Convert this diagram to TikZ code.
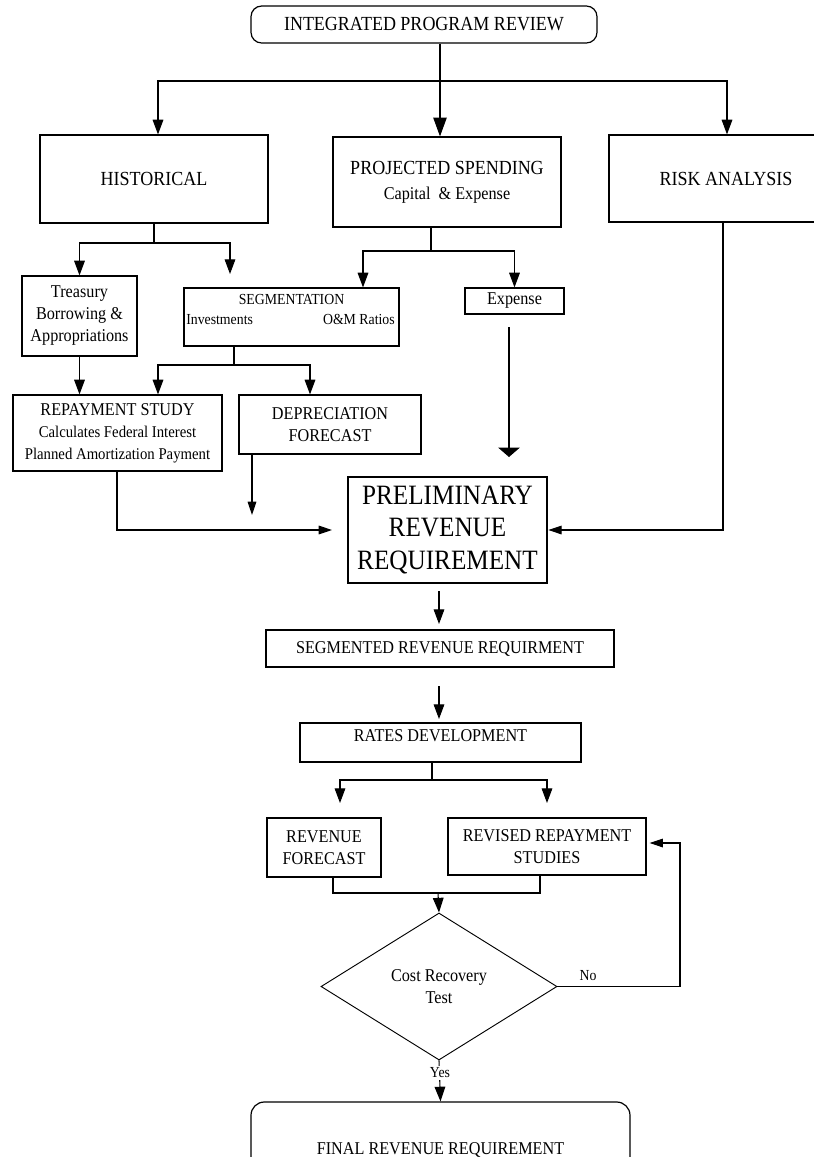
\documentclass[tikz,border=0pt]{standalone}
\usepackage{fontspec}
\setmainfont{Liberation Serif}[FakeStretch=0.9]
\usetikzlibrary{shapes.geometric,arrows.meta,calc}
\begin{document}
\begin{tikzpicture}[x=0.75pt,y=-0.75pt,
  box/.style={draw=black, line width=0.9pt, inner sep=0pt, align=center},
  wh/.style 2 args={minimum width=#1*0.75pt, minimum height=#2*0.75pt},
  big/.style={font=\fontsize{15}{18}\selectfont},
  mid/.style={font=\fontsize{13.5}{16.5}\selectfont},
  small/.style={font=\fontsize{11.5}{14}\selectfont},
  lab/.style={font=\fontsize{11.5}{13}\selectfont, inner sep=1.5pt, fill=white},
  line/.style={draw=black, line width=0.8pt},
  arr/.style={line, -{Triangle[length=11pt,width=8pt]}},
  bigarr/.style={line, -{Triangle[length=14pt,width=10pt]}},
  smallarr/.style={line, -{Triangle[length=10pt,width=6.5pt]}},
  flatarr/.style={line, -{Triangle[length=7pt,width=16pt]}}]
\useasboundingbox (0,0) rectangle (814,1157);
\clip (0,0) rectangle (814,1157);

% ---- nodes ----
\node[box,rounded corners=8pt,wh={346}{37},big] (ipr) at (424,24.5) {INTEGRATED PROGRAM REVIEW};
\node[box,wh={228}{88},big] (hist) at (154,179) {HISTORICAL};
\node[box,wh={228}{90},big] (proj) at (447,182) {PROJECTED SPENDING\\[1pt]{\fontsize{13.5}{16}\selectfont Capital \ \& Expense}};
\node[box,wh={234}{87},big] (risk) at (726,178.5) {RISK ANALYSIS};
\node[box,wh={115}{80},mid] (treas) at (79.5,316) {Treasury\\Borrowing \&\\Appropriations};
\node[box,wh={215}{58}] (seg) at (291.5,317) {};
\node[small,anchor=base,inner sep=0pt] (segt) at (291.5,304) {SEGMENTATION};
\node[small,anchor=base west,inner sep=0pt] (segi) at (186,324) {Investments};
\node[small,anchor=base east,inner sep=0pt] (sego) at (395,324) {O\&M Ratios};
\node[box,wh={99}{26},mid] (exp) at (514.5,301) {Expense};
\node[box,wh={209}{76},mid] (rep) at (117.5,433) {REPAYMENT STUDY\\{\fontsize{12.3}{15}\selectfont Calculates Federal Interest}\\{\fontsize{12.3}{15}\selectfont Planned Amortization Payment}};
\node[box,wh={182}{59},mid] (dep) at (330,424.5) {DEPRECIATION\\FORECAST};
\node[box,line width=2pt,wh={199}{106},font=\fontsize{21}{24.5}\selectfont] (prr) at (447.5,530) {PRELIMINARY\\REVENUE\\REQUIREMENT};
\node[box,wh={348}{37},mid] (segrr) at (440,648.5) {SEGMENTED REVENUE REQUIRMENT};
\node[box,wh={281}{39}] (rates) at (440.5,742.5) {};
\node[mid,anchor=base,inner sep=0pt] (ratest) at (440.5,741) {RATES DEVELOPMENT};
\node[box,wh={114}{59},mid] (rf) at (324,847.5) {REVENUE\\FORECAST};
\node[box,wh={198}{57},mid] (rrs) at (547,846.5) {REVISED REPAYMENT\\STUDIES};
\node[box,shape=diamond,line width=0.7pt,wh={236}{147},mid] (crt) at (439,986.5) {Cost Recovery\\Test};
\node[box,rounded corners=10pt,wh={379}{96},mid] (final) at (440.5,1150) {FINAL REVENUE REQUIREMENT};

% ---- junctions and free ends ----
\coordinate (j1) at (440,81);
\coordinate (j2) at (154,243);
\coordinate (a2) at (230,274);
\coordinate (j3) at (431,251);
\coordinate (e1) at (509,327);
\coordinate (e2) at (509,457);
\coordinate (j4) at (234,365);
\coordinate (r1) at (332,530);
\coordinate (d1) at (252,515);
\coordinate (k1) at (723,530);
\coordinate (p1) at (439,591);
\coordinate (p2) at (439,624);
\coordinate (s1) at (439,686);
\coordinate (s2) at (439,719);
\coordinate (j5) at (432,780);
\coordinate (f1) at (340,803);
\coordinate (f2) at (547,803);
\coordinate (j6) at (438,893);
\coordinate (n1) at (680,986.5);

% ---- connectors ----
\draw[line] (ipr.south -| j1) -- (j1);
\draw[bigarr] (j1) -- (j1 |- proj.north);
\draw[arr] (j1) -| ($(hist.north)+(4,0)$);
\draw[arr] (j1) -| ($(risk.north)+(1,0)$);

\draw[line] (hist.south) -- (j2);
\draw[arr] (j2) -| (treas.north);
\draw[arr] (j2) -| (a2);

\draw[line] (j3 |- proj.south) -- (j3);
\draw[arr] (j3) -| ($(seg.north)+(71.5,0)$);
\draw[arr] (j3) -| (exp.north);

\draw[flatarr] (e1) -- (e2);

\draw[line] (j4 |- seg.south) -- (j4);
\draw[arr] (j4) -| ($(rep.north)+(40.5,0)$);
\draw[arr] (j4) -| ($(dep.north)+(-20,0)$);
\draw[arr] (treas.south) -- (treas.south |- rep.north);

\draw[smallarr] ($(rep.south)+(-0.5,0)$) |- (r1);
\draw[smallarr] (d1 |- dep.south) -- (d1);
\draw[smallarr] (k1 |- risk.south) -- (k1) -- (prr.east);

\draw[arr] (p1) -- (p2);
\draw[arr] (s1) -- (s2);

\draw[line] (j5 |- rates.south) -- (j5);
\draw[arr] (j5) -| (f1);
\draw[arr] (j5) -| (f2);

\draw[line] ($(rf.south)+(9,0)$) |- (j6) -| ($(rrs.south)+(-7,0)$);
\draw[arr] (j6) -- (crt.north);

\draw[line] (crt.east) -- (n1);
\draw[smallarr] (n1) |- ($(rrs.east)+(3,-3.5)$);
\node[lab] (no) at (588,976) {No};

\draw[arr] (crt.south) -- (final.north);
\node[lab] (yes) at (440,1073) {Yes};
\end{tikzpicture}
\end{document}
